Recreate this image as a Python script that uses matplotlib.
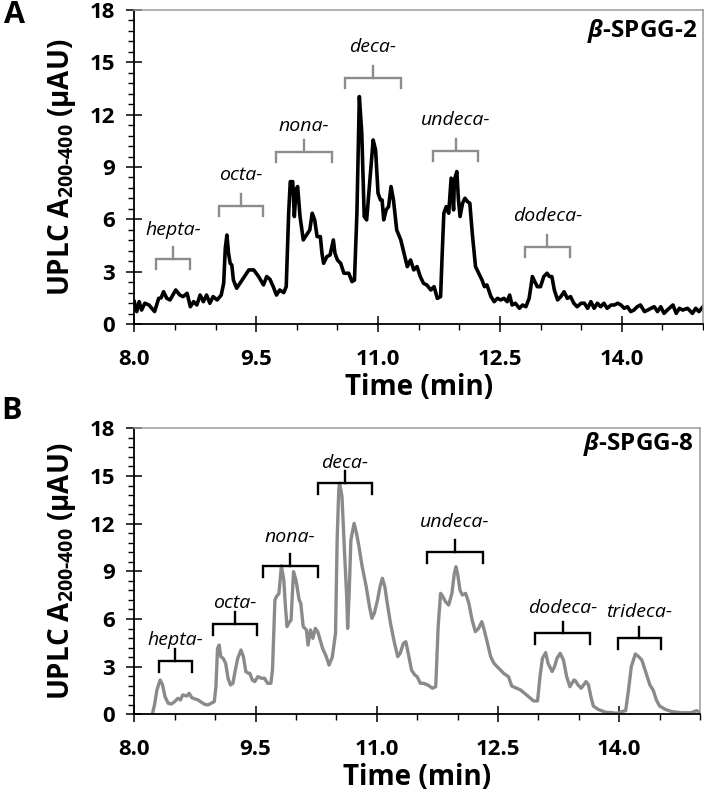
import numpy as np
import matplotlib
matplotlib.use('Agg')
import matplotlib.pyplot as plt
from matplotlib.ticker import FixedLocator, MultipleLocator, FormatStrFormatter

plt.rcParams['font.family'] = ['Open Sans', 'DejaVu Sans']
plt.rcParams['mathtext.fontset'] = 'custom'
plt.rcParams['mathtext.rm'] = 'Open Sans:bold'
plt.rcParams['mathtext.bf'] = 'Open Sans:bold'
plt.rcParams['mathtext.it'] = 'Open Sans:bold:italic'

# Chromatogram A (beta-SPGG-2)
time_a = [8.00, 8.03, 8.06, 8.09, 8.13, 8.18, 8.25, 8.30, 8.33, 8.36,
          8.40, 8.44, 8.51, 8.56, 8.60, 8.65, 8.69, 8.73, 8.77, 8.81,
          8.85, 8.89, 8.93, 8.97, 9.02, 9.07, 9.10, 9.12, 9.14, 9.16,
          9.18, 9.20, 9.22, 9.26, 9.30, 9.34, 9.41, 9.47, 9.53, 9.59,
          9.63, 9.67, 9.71, 9.75, 9.79, 9.84, 9.87, 9.90, 9.92, 9.95,
          9.97, 9.99, 10.01, 10.04, 10.08, 10.12, 10.16, 10.19, 10.22, 10.25,
          10.29, 10.31, 10.33, 10.37, 10.41, 10.45, 10.47, 10.50, 10.54, 10.58,
          10.64, 10.68, 10.71, 10.74, 10.77, 10.80, 10.83, 10.86, 10.90, 10.94,
          10.97, 11.00, 11.03, 11.05, 11.07, 11.10, 11.13, 11.16, 11.19, 11.23,
          11.28, 11.32, 11.36, 11.40, 11.44, 11.48, 11.52, 11.56, 11.60, 11.65,
          11.69, 11.73, 11.77, 11.79, 11.81, 11.84, 11.87, 11.90, 11.93, 11.94,
          11.97, 11.99, 12.01, 12.04, 12.07, 12.10, 12.13, 12.16, 12.20, 12.24,
          12.28, 12.31, 12.34, 12.39, 12.43, 12.47, 12.51, 12.55, 12.59, 12.62,
          12.65, 12.69, 12.74, 12.78, 12.82, 12.86, 12.90, 12.92, 12.96, 13.00,
          13.04, 13.08, 13.11, 13.14, 13.17, 13.21, 13.25, 13.29, 13.33, 13.37,
          13.41, 13.45, 13.50, 13.54, 13.58, 13.62, 13.66, 13.70, 13.74, 13.78,
          13.82, 13.87, 13.91, 13.95, 13.99, 14.03, 14.07, 14.11, 14.15, 14.19,
          14.23, 14.28, 14.32, 14.36, 14.40, 14.44, 14.48, 14.52, 14.56, 14.63,
          14.67, 14.71, 14.75, 14.81, 14.87, 14.91, 14.95, 15.00]
signal_a = [1.28, 0.71, 1.28, 0.80, 1.19, 1.09, 0.71, 1.47, 1.50, 1.85,
            1.47, 1.38, 1.95, 1.66, 1.57, 1.76, 0.99, 1.28, 1.09, 1.66,
            1.28, 1.66, 1.19, 1.57, 1.38, 1.66, 2.33, 4.34, 5.10, 4.05,
            3.48, 3.38, 2.52, 2.05, 2.33, 2.62, 3.10, 3.10, 2.72, 2.24,
            2.72, 2.56, 2.14, 1.66, 1.95, 1.80, 2.14, 6.35, 8.16, 8.16,
            6.16, 7.69, 7.88, 6.16, 4.82, 5.10, 5.39, 6.35, 5.97, 5.01,
            5.01, 4.05, 3.48, 3.86, 3.96, 4.82, 4.05, 3.67, 3.48, 2.91,
            2.91, 2.43, 2.52, 6.35, 13.04, 10.94, 6.16, 5.97, 8.26, 10.55,
            9.98, 7.50, 7.11, 7.11, 5.97, 6.54, 6.73, 7.88, 7.11, 5.39,
            4.82, 4.05, 3.29, 3.67, 3.10, 3.29, 2.72, 2.33, 2.24, 1.95,
            2.14, 1.47, 1.57, 4.05, 6.35, 6.73, 6.35, 8.36, 6.54, 8.26,
            8.74, 7.11, 6.16, 6.92, 7.21, 7.02, 6.92, 5.20, 3.29, 2.91,
            2.52, 2.14, 2.24, 1.57, 1.28, 1.47, 1.38, 1.47, 1.28, 1.66,
            1.09, 1.19, 0.90, 1.09, 0.99, 1.47, 2.72, 2.52, 2.14, 2.14,
            2.72, 2.91, 2.72, 2.72, 1.95, 1.38, 1.57, 1.85, 1.47, 1.57,
            1.19, 0.99, 1.19, 1.19, 0.90, 1.28, 0.90, 1.19, 0.99, 1.19,
            0.90, 1.09, 1.09, 1.19, 1.09, 0.90, 0.99, 0.71, 0.80, 0.99,
            1.09, 0.71, 0.80, 0.90, 0.99, 0.71, 0.99, 0.61, 0.80, 1.09,
            0.61, 0.90, 0.80, 0.90, 0.61, 0.90, 0.71, 0.99]

# Chromatogram B (beta-SPGG-8)
time_b = [8.23, 8.25, 8.28, 8.32, 8.35, 8.38, 8.42, 8.46, 8.50, 8.54,
          8.57, 8.60, 8.65, 8.68, 8.71, 8.75, 8.79, 8.83, 8.87, 8.91,
          8.95, 8.99, 9.01, 9.03, 9.05, 9.07, 9.10, 9.13, 9.16, 9.19,
          9.22, 9.25, 9.28, 9.32, 9.35, 9.38, 9.41, 9.43, 9.46, 9.49,
          9.53, 9.57, 9.61, 9.65, 9.69, 9.71, 9.74, 9.76, 9.79, 9.82,
          9.85, 9.87, 9.89, 9.91, 9.94, 9.97, 10.00, 10.04, 10.06, 10.09,
          10.13, 10.15, 10.18, 10.21, 10.24, 10.27, 10.30, 10.33, 10.37, 10.41,
          10.45, 10.49, 10.51, 10.53, 10.54, 10.57, 10.60, 10.63, 10.64, 10.66,
          10.68, 10.72, 10.75, 10.78, 10.82, 10.87, 10.91, 10.94, 10.97, 11.01,
          11.04, 11.07, 11.10, 11.13, 11.17, 11.22, 11.26, 11.29, 11.33, 11.36,
          11.39, 11.43, 11.47, 11.50, 11.54, 11.58, 11.63, 11.69, 11.73, 11.76,
          11.79, 11.82, 11.85, 11.89, 11.93, 11.96, 11.98, 12.00, 12.03, 12.06,
          12.10, 12.14, 12.18, 12.22, 12.26, 12.30, 12.33, 12.37, 12.41, 12.45,
          12.49, 12.53, 12.57, 12.63, 12.67, 12.78, 12.88, 12.94, 12.99, 13.02,
          13.05, 13.09, 13.12, 13.17, 13.20, 13.23, 13.27, 13.31, 13.35, 13.39,
          13.44, 13.46, 13.49, 13.53, 13.59, 13.62, 13.65, 13.68, 13.74, 13.83,
          13.91, 13.97, 14.03, 14.08, 14.11, 14.15, 14.20, 14.24, 14.28, 14.32,
          14.38, 14.42, 14.46, 14.50, 14.57, 14.65, 14.77, 14.89, 14.96, 14.98]
signal_b = [0.17, 0.59, 1.53, 2.16, 1.85, 1.11, 0.69, 0.65, 0.80, 1.01,
            0.90, 1.22, 1.15, 1.32, 1.05, 0.97, 0.90, 0.76, 0.63, 0.59,
            0.69, 0.80, 1.74, 4.15, 4.36, 3.63, 3.52, 3.21, 2.27, 1.85,
            1.95, 2.79, 3.52, 4.05, 3.63, 2.69, 2.58, 2.58, 2.16, 2.06,
            2.37, 2.27, 2.27, 1.95, 1.95, 2.79, 7.20, 7.41, 7.61, 9.35,
            8.45, 6.78, 5.52, 5.73, 5.94, 8.98, 8.45, 7.20, 6.99, 5.52,
            5.31, 4.36, 5.31, 4.78, 5.41, 5.20, 4.68, 4.15, 3.70, 3.10,
            3.60, 5.10, 10.97, 14.12, 14.54, 13.70, 10.34, 7.20, 5.41, 7.82,
            10.97, 12.02, 11.39, 10.55, 9.29, 8.03, 6.78, 6.04, 6.36, 7.20,
            8.03, 8.56, 8.03, 6.99, 5.73, 4.47, 3.63, 3.84, 4.47, 4.57,
            3.84, 2.79, 2.48, 2.37, 1.95, 1.95, 1.85, 1.64, 1.74, 5.52,
            7.61, 7.40, 7.09, 6.88, 7.61, 8.87, 9.29, 8.87, 7.82, 7.51,
            7.61, 6.99, 5.94, 5.20, 5.41, 5.83, 5.31, 4.47, 3.63, 3.21,
            3.00, 2.79, 2.58, 2.37, 1.78, 1.53, 1.11, 0.84, 0.84, 2.37,
            3.52, 3.88, 3.21, 2.69, 3.00, 3.52, 3.84, 3.42, 2.37, 1.74,
            2.16, 2.10, 1.85, 1.64, 2.06, 1.85, 1.11, 0.52, 0.31, 0.13,
            0.10, 0.06, 0.17, 0.23, 1.32, 3.00, 3.80, 3.63, 3.42, 2.79,
            1.85, 1.53, 0.90, 0.52, 0.31, 0.17, 0.10, 0.10, 0.23, 0.17]

x_ticks = [8.0, 9.5, 11.0, 12.5, 14.0]

# oligomer brackets: label, start, end, bracket level, label height
labels_a = ['hepta-', 'octa-', 'nona-', 'deca-', 'undeca-', 'dodeca-']
start_a = [8.27, 9.04, 9.75, 10.59, 11.68, 12.81]
end_a = [8.69, 9.59, 10.43, 11.28, 12.23, 13.36]
level_a = [3.73, 6.78, 9.88, 14.12, 9.94, 4.43]
text_y_a = [5.4, 8.55, 11.35, 15.9, 11.7, 6.19]

labels_b = ['hepta-', 'octa-', 'nona-', 'deca-', 'undeca-', 'dodeca-', 'trideca-']
start_b = [8.30, 8.97, 9.59, 10.27, 11.62, 12.96, 13.98]
end_b = [8.71, 9.52, 10.27, 10.94, 12.31, 13.64, 14.52]
level_b = [3.35, 5.68, 9.35, 14.58, 10.23, 5.10, 4.78]
text_y_b = [4.68, 6.98, 11.18, 15.8, 12.12, 6.67, 6.46]

W, H = 704, 798
fig = plt.figure(figsize=(W / 100, H / 100), dpi=100)
ax_a = fig.add_axes([134.3 / W, 1 - 324 / H, (703 - 134.3) / W, 314 / H])
ax_b = fig.add_axes([134.3 / W, 1 - 714.3 / H, (700 - 134.3) / W, 286 / H])


def style_axes(ax):
    ax.set_xlim(8.0, 15.0)
    ax.set_ylim(0, 18)
    ax.xaxis.set_major_locator(FixedLocator(x_ticks))
    ax.xaxis.set_minor_locator(MultipleLocator(0.5))
    ax.yaxis.set_major_locator(MultipleLocator(3))
    ax.yaxis.set_minor_locator(MultipleLocator(0.6))
    ax.xaxis.set_major_formatter(FormatStrFormatter('%.1f'))
    ax.tick_params(which='major', direction='inout', length=12, width=1.1,
                   labelsize=16, pad=8)
    ax.tick_params(which='minor', direction='out', length=4.5, width=1)
    ax.tick_params(axis='x', which='major', pad=12)
    for lab in ax.get_xticklabels() + ax.get_yticklabels():
        lab.set_fontweight('bold')
    for s in ['left', 'bottom']:
        ax.spines[s].set_color('black')
        ax.spines[s].set_linewidth(1.3)
    for s in ['top', 'right']:
        ax.spines[s].set_color('#9a9a9a')
        ax.spines[s].set_linewidth(1.1)
    ax.set_xlabel('Time (min)', fontsize=20, fontweight='bold', labelpad=2)
    ax.set_ylabel(r'UPLC A$_{\mathrm{200\text{-}400}}$ (μAU)', fontsize=20,
                  fontweight='bold', labelpad=8)


def draw_brackets(ax, labels, starts, ends, levels, text_ys, color, leg, tick):
    for lab, x0, x1, y, ty in zip(labels, starts, ends, levels, text_ys):
        xm = (x0 + x1) / 2
        ax.plot([x0, x0, x1, x1], [y - leg, y, y, y - leg], color=color,
                lw=1.7, solid_joinstyle='miter')
        ax.plot([xm, xm], [y, y + tick], color=color, lw=1.7)
        ax.text(xm, ty, lab, fontsize=14, style='italic', ha='center',
                va='center', color='black')


# A
ax_a.plot(time_a, signal_a, color='black', lw=2.6, solid_joinstyle='round')
style_axes(ax_a)
draw_brackets(ax_a, labels_a, start_a, end_a, level_a, text_y_a,
              '#8c8c8c', 0.57, 0.68)
ax_a.text(0.99, 0.933, r'$\beta$-SPGG-2', transform=ax_a.transAxes,
          ha='right', va='center', fontsize=17.5, fontweight='bold')

# B
ax_b.plot(time_b, signal_b, color='#8a8a8a', lw=2.4, solid_joinstyle='round')
style_axes(ax_b)
draw_brackets(ax_b, labels_b, start_b, end_b, level_b, text_y_b,
              'black', 0.69, 0.73)
ax_b.text(0.988, 0.945, r'$\beta$-SPGG-8', transform=ax_b.transAxes,
          ha='right', va='center', fontsize=17.5, fontweight='bold')

fig.text(14 / W, 1 - 15 / H, 'A', fontsize=22, fontweight='bold',
         ha='center', va='center')
fig.text(12 / W, 1 - 411 / H, 'B', fontsize=22, fontweight='bold',
         ha='center', va='center')

fig.savefig('out.png', dpi=100)
